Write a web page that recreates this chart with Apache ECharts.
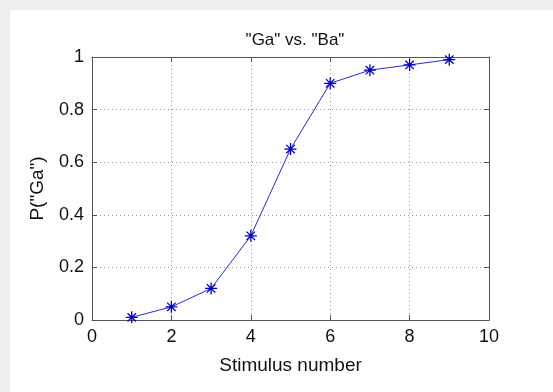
<!DOCTYPE html>
<html>
<head>
<meta charset="utf-8">
<script src="https://cdn.jsdelivr.net/npm/echarts@6/dist/echarts.min.js"></script>
<style>
html,body{margin:0;padding:0;background:#fff;}
#chart{width:553px;height:392px;}
</style>
</head>
<body>
<div id="chart"></div>
<script>
// 数据
var stimulus = [1, 2, 3, 4, 5, 6, 7, 8, 9];
var pGa = [0.01, 0.05, 0.12, 0.32, 0.65, 0.90, 0.95, 0.97, 0.99];
var xTicks = [0, 2, 4, 6, 8, 10];
var yTicks = [0, 0.2, 0.4, 0.6, 0.8, 1];

var points = stimulus.map(function(s, i){ return [s, pGa[i]]; });

var asterisk = 'path://M5,0L5,10M0,5L10,5M1.5,1.5L8.5,8.5M8.5,1.5L1.5,8.5';
var font = 'Liberation Sans, Arial, sans-serif';
var axisColor = '#555';

var myChart = echarts.init(document.getElementById('chart'));

function xAx(pos, show){
	return {
		type: 'value', position: pos, min: xTicks[0], max: xTicks[xTicks.length-1], interval: 2,
		axisLine: {show: true, onZero: false, lineStyle: {color: axisColor, width: 1}},
		axisTick: {show: true, inside: true, length: 5, lineStyle: {color: axisColor}},
		axisLabel: {show: show, color: '#111', fontSize: 18, fontFamily: font, margin: 8},
		splitLine: {show: show, lineStyle: {color: '#999', type: [1, 3]}},
		name: show ? 'Stimulus number' : '', nameLocation: 'middle', nameGap: 36,
		nameTextStyle: {color: '#111', fontSize: 19, fontFamily: font}
	};
}
function yAx(pos, show){
	return {
		type: 'value', position: pos, min: yTicks[0], max: yTicks[yTicks.length-1], interval: 0.2,
		axisLine: {show: true, onZero: false, lineStyle: {color: axisColor, width: 1}},
		axisTick: {show: true, inside: true, length: 5, lineStyle: {color: axisColor}},
		axisLabel: {show: show, color: '#111', fontSize: 18, fontFamily: font, margin: 8,
			formatter: function(v){ return String(Math.round(v*10)/10); }},
		splitLine: {show: show, lineStyle: {color: '#999', type: [1, 3]}},
		name: show ? 'P("Ga")' : '', nameLocation: 'middle', nameGap: 45, nameRotate: 90,
		nameTextStyle: {color: '#111', fontSize: 19, fontFamily: font}
	};
}

option = {
	backgroundColor: '#fff',
	animation: false,
	graphic: [
		{type: 'rect', left: 0, top: 0, shape: {width: 553, height: 10}, style: {fill: '#efefef'}, silent: true},
		{type: 'rect', left: 0, top: 0, shape: {width: 10, height: 392}, style: {fill: '#efefef'}, silent: true}
	],
	title: {
		text: '"Ga" vs. "Ba"', left: 290, top: 27, textAlign: 'center',
		textStyle: {color: '#111', fontSize: 17, fontWeight: 'normal', fontFamily: font}
	},
	grid: {left: 92, right: 64, top: 57, bottom: 72, containLabel: false},
	xAxis: [xAx('bottom', true), xAx('top', false)],
	yAxis: [yAx('left', true), yAx('right', false)],
	series: [{
		type: 'line',
		data: points,
		symbol: asterisk,
		symbolSize: 12,
		showSymbol: true,
		lineStyle: {color: '#2a2ad6', width: 1},
		itemStyle: {color: 'rgba(0,0,0,0)', borderColor: '#0000cc', borderWidth: 1.3}
	}]
};

myChart.setOption(option);
</script>
</body>
</html>
